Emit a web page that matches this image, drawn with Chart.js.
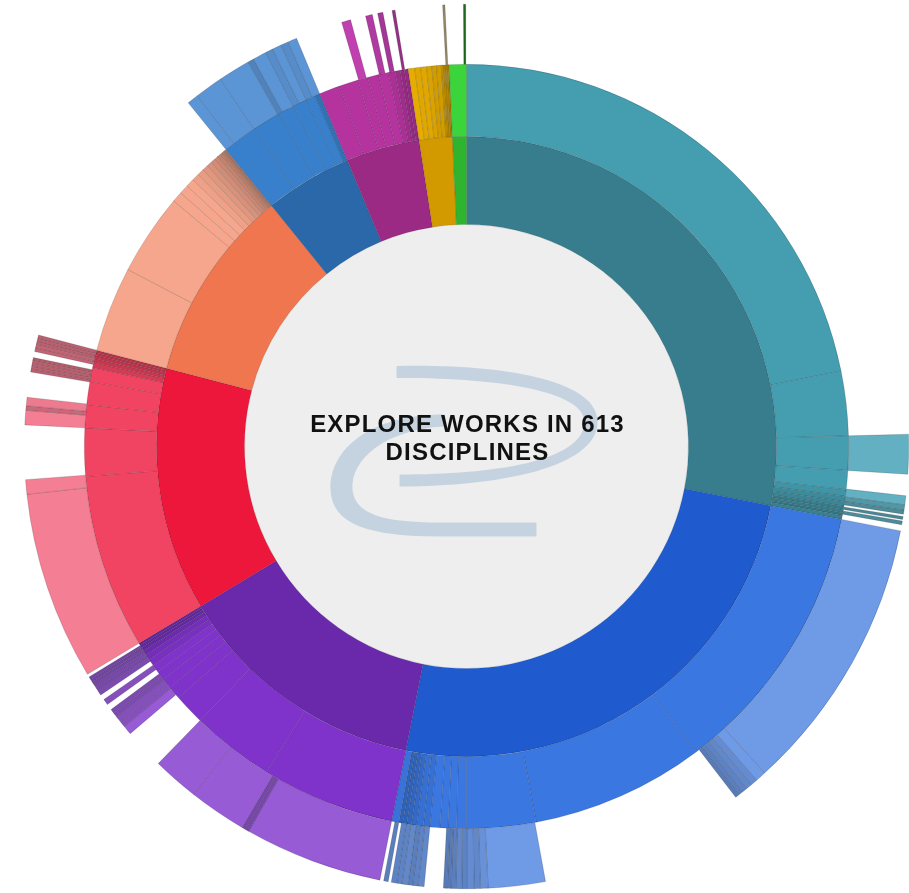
<!DOCTYPE html>
<html>
<head>
<meta charset="utf-8">
<title>Explore works in 613 disciplines</title>
<script src="https://cdn.jsdelivr.net/npm/chart.js@4.4.0/dist/chart.umd.min.js"></script>
<style>
  html, body { margin: 0; padding: 0; background: #fff; }
  #wrap { width: 909px; height: 893px; position: relative; }
</style>
</head>
<body>
<div id="wrap"><canvas id="sunburst"></canvas></div>
<script>
// inner ring: top level disciplines (shares of the full circle)
const fields = ['Field A', 'Field B', 'Field C', 'Field D', 'Field E', 'Field F', 'Field G', 'Field H', 'Field I'];
const fieldValues = [101, 90.3, 47.7, 45.6, 36.4, 16.4, 13.8, 6.2, 2.6];

// middle ring: sub-disciplines, one list per top level field
const subfieldValues = [
    [78.6, 9.8, 5.2, 2.9, 1.0, 0.8, 0.7, 0.5, 0.5, 0.4, 0.6],
    [42, 26.5, 10.5, 1.5, 1.3, 1.2, 1.5, 1.0, 1.0, 0.8, 0.7, 0.6, 0.6, 1.1],
    [20.2, 12.7, 4.7, 2.0, 1.6, 1.4, 1.2, 1.0, 0.9, 0.7, 0.5, 0.4, 0.4],
    [26.5, 7.3, 3.5, 3.5, 2.1, 0.8, 0.6, 0.5, 0.4, 0.4],
    [13.0, 12.4, 1.6, 1.4, 1.3, 1.1, 1.0, 0.9, 0.8, 0.7, 0.6, 0.5, 0.4, 0.3, 0.2, 0.2],
    [5.3, 4.3, 2.5, 2.1, 1.4, 0.8],
    [3.2, 2.9, 1.5, 1.7, 1.5, 1.0, 0.8, 0.6, 0.6],
    [1.0, 0.9, 0.9, 0.8, 0.7, 0.7, 0.4, 0.3, 0.3, 0.2],
    [2.6]
];

// outer ring: third level, owner -1 means nothing there
const outerValues = [
    88.4, 5.2, 2.8, 1.2, 0.7, 0.5, 0.3, 0.4, 0.2, 0.5, 0.8,
    36.6, 1.4, 0.9, 0.8, 0.7, 0.6, 0.5, 27.2, 7.5, 1.0, 0.8, 0.9, 0.7, 0.8, 0.6, 0.5, 0.5,
    2.5, 0.8, 0.7, 0.6, 0.8, 0.7, 0.7, 0.4, 0.6, 0.5,
    18.2, 0.5, 0.5, 7.6, 6.1, 5.3, 1.2, 0.8, 0.8, 0.6, 0.6, 0.8, 0.8, 0.7, 0.6, 0.5, 0.5, 0.4, 0.4, 0.4, 0.4,
    24.8, 1.9, 7.1, 1.9, 0.6, 1.1, 3.3, 0.4, 0.4, 0.4, 0.4, 0.3, 0.8, 0.5, 0.5, 0.4, 0.4, 0.4,
    36.4,
    1.5, 3.7, 4.2, 0.8, 1.8, 1.0, 1.2, 1.0, 1.2,
    6.2, 1.2, 2.0, 0.9, 0.7, 0.7, 1.2, 0.4, 0.5,
    5.7, 0.3, 0.2,
    2.2, 0.3, 0.1
];
const outerOwner = [
    -1, 0, -1, 0, 0, 0, -1, 0, -1, 0, -1,
    1, 1, 1, 1, 1, 1, 1, -1, 1, 1, 1, 1, 1, 1, 1, 1, 1,
    -1, 1, 1, 1, 1, 1, 1, -1, 1, -1,
    2, 2, 2, 2, 2, -1, 2, 2, 2, 2, 2, -1, 2, -1, 2, 2, 2, 2, 2, 2, -1,
    3, 3, -1, 3, 3, 3, -1, 3, 3, 3, 3, 3, -1, 3, 3, 3, 3, 3,
    -1,
    5, 5, 5, 5, 5, 5, 5, 5, 5,
    -1, 6, -1, 6, -1, 6, -1, 6, -1,
    -1, 7, -1,
    -1, 8, -1
];

const innerColors = ['#387d8e', '#1f5bce', '#6a29aa', '#ec173b', '#f07650', '#2a68aa', '#9b2a84', '#d39a00', '#2eb42e'];
const middleColors = ['#459db0', '#3b77e0', '#7f33cb', '#f04462', '#f6a68c', '#3880cc', '#b5339f', '#f5b800', '#3bd43b'];
const outerColors = ['#62b0c2', '#6f9ae6', '#975bd6', '#f47f94', '#f8c0a8', '#5b95d6', '#c040b0', '#c9b98f', '#2a8c2a'];

function shade(hex, k) {
    const n = parseInt(hex.slice(1), 16);
    const r = (n >> 16) & 255, g = (n >> 8) & 255, b = n & 255;
    return 'rgb(' + Math.round(r * (1 - k)) + ',' + Math.round(g * (1 - k)) + ',' + Math.round(b * (1 - k)) + ')';
}
// thin slivers look darker in the original
function thin(v) {
    return v < 1.2 ? (1.2 - v) * 0.3 : 0;
}

// build middle ring
let midData = [], midBg = [];
subfieldValues.forEach(function (list, i) {
    list.forEach(function (v) {
        midData.push(v);
        midBg.push(shade(middleColors[i], thin(v)));
    });
});

// build outer ring
let outBg = [], outBorder = [];
outerValues.forEach(function (v, i) {
    const owner = outerOwner[i];
    if (owner < 0) {
        outBg.push('rgba(0,0,0,0)');
        outBorder.push(0);
    } else {
        outBg.push(shade(outerColors[owner], thin(v)));
        outBorder.push(0.6);
    }
});

const centerDisc = {
    id: 'centerDisc',
    beforeDatasetsDraw(chart) {
        const arc = chart.getDatasetMeta(2).data[0];
        if (!arc) return;
        const ctx = chart.ctx;
        const x = arc.x, y = arc.y, r = arc.innerRadius;
        ctx.save();
        ctx.beginPath();
        ctx.arc(x, y, r, 0, Math.PI * 2);
        ctx.fillStyle = '#eeeeee';
        ctx.fill();

        // logo swirl
        ctx.translate(x, y);
        ctx.fillStyle = '#c5d3e0';
        ctx.beginPath();
        ctx.moveTo(-70, -80.5);
        ctx.bezierCurveTo(33, -83, 133, -67, 131, -24);
        ctx.bezierCurveTo(130, 21, 33, 40, -67, 40);
        ctx.lineTo(-67, 28);
        ctx.bezierCurveTo(28, 28, 116, 15, 118, -24);
        ctx.bezierCurveTo(119, -55, 33, -69, -70, -68.5);
        ctx.closePath();
        ctx.fill();
        ctx.beginPath();
        ctx.moveTo(-22, -32);
        ctx.bezierCurveTo(-97, -32, -137, 3, -136, 43);
        ctx.bezierCurveTo(-135, 78, -97, 90, -27, 90);
        ctx.lineTo(70, 90);
        ctx.lineTo(70, 76);
        ctx.lineTo(-27, 76);
        ctx.bezierCurveTo(-82, 76, -112, 68, -114, 43);
        ctx.bezierCurveTo(-116, 13, -82, -17, -22, -20);
        ctx.closePath();
        ctx.fill();

        // title text
        ctx.fillStyle = '#111';
        ctx.font = 'bold 24px "Liberation Sans", Arial, sans-serif';
        ctx.letterSpacing = '1.2px';
        ctx.textAlign = 'center';
        ctx.textBaseline = 'alphabetic';
        ctx.fillText('EXPLORE WORKS IN 613', 1, -15);
        ctx.fillText('DISCIPLINES', 1, 13);
        ctx.restore();
    }
};

const ctx = document.getElementById('sunburst');
const chart = new Chart(ctx, {
    type: 'doughnut',
    data: {
        labels: fields,
        datasets: [
            {
                label: 'Level 3',
                data: outerValues,
                backgroundColor: outBg,
                borderColor: 'rgba(0,0,0,0.25)',
                borderWidth: outBorder,
                weight: 60,
                hoverOffset: 0
            },
            {
                label: 'Level 2',
                data: midData,
                backgroundColor: midBg,
                borderColor: 'rgba(0,0,0,0.22)',
                borderWidth: 0.6,
                weight: 72,
                hoverOffset: 0
            },
            {
                label: 'Level 1',
                data: fieldValues,
                backgroundColor: innerColors,
                borderColor: 'rgba(0,0,0,0.2)',
                borderWidth: 0.6,
                weight: 88,
                hoverOffset: 0
            }
        ]
    },
    options: {
        responsive: true,
        maintainAspectRatio: false,
        animation: false,
        cutout: '50.2%',
        layout: { padding: { left: 24, right: 0, top: 4, bottom: 4 } },
        events: [],
        plugins: {
            legend: { display: false },
            tooltip: { enabled: false }
        }
    },
    plugins: [centerDisc]
});
</script>
</body>
</html>
